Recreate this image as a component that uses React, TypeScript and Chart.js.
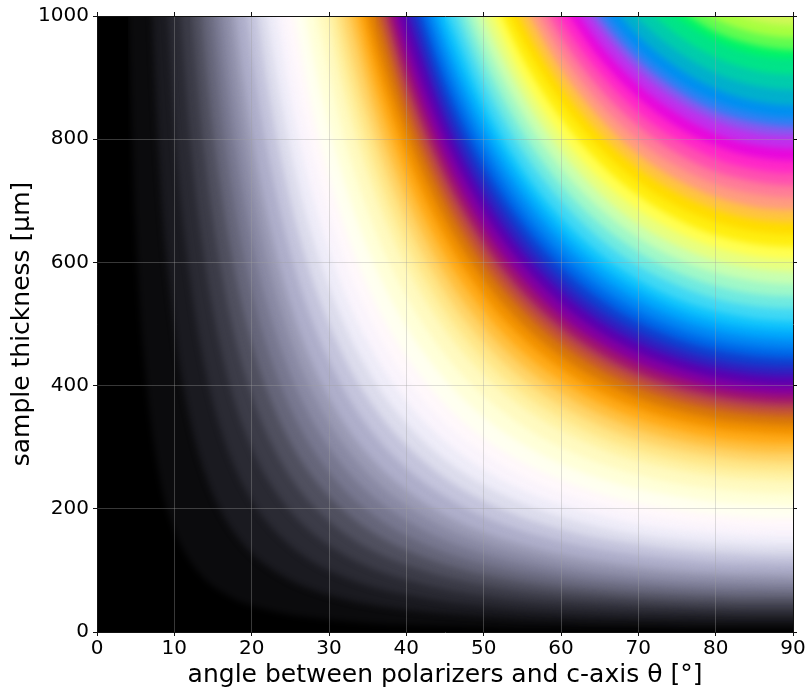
import React, { useEffect, useRef } from "react";
import { Chart, registerables } from "chart.js";

Chart.register(...registerables);

// Angle positions (degrees) at which the iso-colour contours were read.
const thetaGrid = [-10, 3, 4, 5, 6, 8, 10, 12, 14, 16, 18, 20, 22, 25, 28, 32, 36, 40, 45, 50, 55, 60, 65, 70, 75, 80, 85, 90];

// Colour of the band that starts at each contour, lowest band first.
const contourColors = [
  "#000000", "#0b0b0d", "#1a1a20", "#2a2a33", "#3c3c48", "#50505f", "#66667a", "#787890", "#8a8aa4", "#9a9ab4", "#aeaeca",
  "#c4c4dc", "#dcdcec", "#eeecf8", "#faf4fc", "#fff8fb", "#fffff0", "#ffffd8", "#fffac0", "#fff2a4", "#ffe688", "#ffd468",
  "#ffc040", "#ffaa18", "#f29200", "#d87808", "#c65830", "#b44050", "#a01470", "#8400a0", "#5a00b0", "#3020c0", "#1040d0",
  "#0068e8", "#0088f4", "#00a8fc", "#10c4fc", "#40d8f4", "#70eae0", "#a0f8c8", "#c8ffb0", "#e8ff80", "#ffff50", "#ffee10",
  "#ffdc00", "#ffc440", "#ff9c80", "#ff7c98", "#ff50b0", "#ff28c8", "#e808dc", "#c030ec", "#8858f0", "#3080f4", "#0090f0",
  "#00b0cc", "#00ccac", "#00e488", "#00f468", "#60fc50", "#a8ff40", "#d0f858",
];

// Thickness (µm) of each contour; each list ends at theta = 90 and lines up with the end of thetaGrid.
const contourThickness = [
  [-100, -100, -100, -100, -100, -100, -100, -100, -100, -100, -100, -100, -100, -100, -100, -100, -100, -100, -100, -100, -100, -100, -100, -100, -100, -100, -100, -100],
  [1026, 658, 458, 258, 166, 116, 85, 66, 52, 43, 36, 28, 23, 18, 14, 12, 10, 9, 7, 7, 6, 6, 5, 5, 5, 5],
  [1372, 774, 497, 347, 256, 197, 157, 128, 107, 84, 68, 53, 43, 36, 30, 26, 22, 20, 18, 17, 16, 15, 15, 15],
  [1290, 829, 578, 427, 329, 262, 214, 178, 140, 113, 89, 72, 61, 50, 43, 37, 33, 30, 28, 27, 26, 25, 25],
  [1161, 810, 598, 461, 366, 299, 249, 196, 159, 125, 101, 85, 70, 60, 52, 47, 43, 40, 38, 36, 35, 35],
  [1041, 769, 592, 471, 385, 321, 252, 204, 160, 130, 109, 90, 77, 67, 60, 55, 51, 48, 46, 45, 45],
  [1272, 940, 724, 576, 470, 392, 308, 250, 196, 159, 133, 110, 94, 82, 73, 67, 62, 59, 57, 55, 55],
  [1111, 855, 681, 556, 463, 364, 295, 231, 188, 157, 130, 111, 97, 87, 79, 74, 70, 67, 66, 65],
  [1282, 987, 785, 641, 534, 420, 340, 267, 217, 182, 150, 128, 112, 100, 91, 85, 80, 77, 76, 75],
  [1119, 890, 727, 606, 476, 386, 303, 246, 206, 170, 145, 127, 113, 103, 96, 91, 88, 86, 85],
  [1250, 995, 812, 677, 532, 431, 338, 275, 230, 190, 162, 142, 127, 116, 108, 102, 98, 96, 95],
  [1152, 940, 784, 616, 499, 392, 318, 266, 220, 187, 164, 147, 134, 125, 118, 113, 111, 110],
  [1069, 891, 700, 567, 445, 362, 303, 250, 213, 186, 167, 152, 142, 134, 129, 126, 125],
  [1197, 998, 784, 635, 499, 405, 339, 280, 239, 209, 187, 170, 158, 150, 144, 141, 140],
  [1105, 868, 703, 552, 449, 375, 310, 264, 231, 207, 189, 175, 166, 160, 156, 155],
  [1211, 952, 771, 605, 492, 411, 340, 290, 253, 227, 207, 192, 182, 175, 171, 170],
  [1036, 839, 659, 535, 448, 370, 315, 276, 247, 225, 209, 198, 191, 186, 185],
  [1148, 930, 730, 593, 496, 410, 349, 305, 273, 249, 232, 220, 211, 207, 205],
  [1021, 801, 651, 545, 450, 383, 335, 300, 274, 255, 241, 232, 227, 225],
  [1112, 872, 709, 593, 490, 417, 365, 327, 298, 277, 263, 253, 247, 245],
  [1180, 926, 752, 629, 520, 443, 387, 347, 316, 294, 279, 268, 262, 260],
  [1248, 979, 796, 666, 550, 469, 410, 367, 335, 311, 295, 284, 277, 275],
  [1033, 839, 702, 580, 494, 432, 387, 353, 328, 311, 299, 292, 290],
  [1086, 883, 738, 610, 520, 454, 407, 371, 345, 327, 314, 307, 305],
  [1140, 926, 774, 640, 545, 477, 427, 389, 362, 343, 330, 323, 320],
  [1193, 969, 811, 670, 571, 499, 447, 408, 379, 359, 345, 338, 335],
  [1013, 847, 700, 596, 522, 467, 426, 396, 375, 361, 353, 350],
  [1048, 876, 724, 617, 539, 483, 441, 410, 388, 373, 365, 362],
  [1077, 900, 744, 634, 554, 496, 453, 421, 399, 384, 375, 372],
  [1114, 932, 770, 656, 574, 513, 469, 436, 413, 397, 388, 385],
  [1158, 968, 800, 682, 596, 533, 487, 453, 429, 412, 403, 400],
  [1004, 830, 707, 618, 553, 505, 470, 445, 428, 418, 415],
  [1041, 860, 733, 641, 573, 523, 487, 461, 443, 433, 430],
  [1077, 890, 758, 663, 593, 542, 504, 477, 459, 449, 445],
  [1113, 920, 784, 685, 613, 560, 521, 493, 474, 464, 460],
  [1150, 950, 809, 708, 633, 578, 538, 509, 490, 479, 475],
  [1186, 980, 835, 730, 653, 596, 555, 525, 505, 494, 490],
  [1010, 861, 752, 673, 615, 572, 541, 521, 509, 505],
  [1050, 895, 782, 700, 639, 594, 563, 541, 529, 525],
  [1090, 929, 812, 726, 663, 617, 584, 562, 549, 545],
  [1130, 963, 842, 753, 688, 640, 606, 583, 570, 565],
  [1170, 997, 872, 780, 712, 662, 627, 603, 590, 585],
  [1031, 901, 806, 736, 685, 649, 624, 610, 605],
  [1065, 931, 833, 761, 708, 670, 644, 630, 625],
  [1099, 961, 860, 785, 730, 691, 665, 650, 645],
  [1133, 991, 886, 809, 753, 713, 686, 670, 665],
  [1021, 913, 834, 775, 734, 706, 690, 685],
  [1050, 940, 858, 798, 756, 727, 711, 705],
  [1080, 966, 882, 821, 777, 747, 731, 725],
  [1110, 993, 907, 843, 799, 768, 751, 745],
  [1020, 931, 866, 820, 789, 771, 765],
  [1046, 955, 889, 842, 809, 791, 785],
  [1073, 980, 911, 863, 830, 811, 805],
  [1093, 998, 928, 879, 845, 827, 820],
  [1016, 945, 895, 861, 842, 835],
  [1041, 968, 917, 882, 862, 855],
  [1071, 996, 943, 907, 887, 880],
  [1024, 970, 933, 912, 905],
  [1053, 997, 959, 937, 930],
  [1013, 974, 953, 945],
  [1034, 995, 973, 965],
  [1016, 993, 985],
];

const xTitle = "angle between polarizers and c-axis θ [°]";
const yTitle = "sample thickness [µm]";
const FONT = "'DejaVu Sans'";
const GRID = "rgba(160,160,160,0.35)";
const EDGE = "#111111";
const OFF_PLOT_THETA = 100;
const OFF_PLOT_THICKNESS = 3000;

const softenBands = {
  id: "softenBands",
  beforeDatasetsDraw(chart: any) {
    chart.ctx.filter = "blur(3px)";
  },
  afterDatasetsDraw(chart: any) {
    chart.ctx.filter = "none";
  },
};

export default function App() {
  const ref = useRef<HTMLCanvasElement>(null);
  useEffect(() => {
    document.body.style.margin = "0";
    const datasets = contourThickness.map((ys, i) => {
      const off = thetaGrid.length - ys.length;
      const pts = ys.map((y, k) => ({ x: thetaGrid[off + k], y }));
      pts.push({ x: OFF_PLOT_THETA, y: ys[ys.length - 1] });
      return {
        data: pts,
        borderWidth: 0,
        borderColor: "transparent",
        backgroundColor: contourColors[i],
        pointRadius: 0,
        showLine: true,
        fill: { value: OFF_PLOT_THICKNESS },
        cubicInterpolationMode: "monotone" as const,
        order: contourThickness.length - i,
        xAxisID: "x",
        yAxisID: "y",
      };
    });
    const fixed = (side: "width" | "height", size: number) => (s: any) => {
      s[side] = size;
    };
    const chart = new Chart(ref.current!, {
      type: "scatter",
      data: { datasets: datasets as any },
      plugins: [softenBands],
      options: {
        animation: false,
        responsive: false,
        layout: { padding: 0 },
        plugins: { legend: { display: false }, tooltip: { enabled: false } },
        scales: {
          x: {
            type: "linear", min: 0, max: 90, position: "bottom",
            afterFit: fixed("height", 61),
            border: { color: EDGE, z: 2 },
            grid: { color: GRID, z: 1, tickColor: EDGE, tickLength: 4 },
            ticks: { stepSize: 10, color: "#000", maxRotation: 0, padding: 1, font: { family: FONT, size: 20 }, callback: (v: any) => String(v) },
            title: { display: true, text: xTitle, color: "#000", font: { family: FONT, size: 25 }, padding: { top: 0, bottom: 3 } },
          },
          y: {
            type: "linear", min: 0, max: 1000, position: "left",
            afterFit: fixed("width", 97),
            border: { color: EDGE, z: 2 },
            grid: { color: GRID, z: 1, tickColor: EDGE, tickLength: 4 },
            ticks: { stepSize: 200, color: "#000", padding: 4, font: { family: FONT, size: 20 }, callback: (v: any) => String(v) },
            title: { display: true, text: yTitle, color: "#000", font: { family: FONT, size: 25 }, padding: { top: 7, bottom: 0 } },
          },
          x2: {
            type: "linear", min: 0, max: 90, position: "top",
            afterFit: fixed("height", 14),
            border: { color: EDGE, z: 2 },
            grid: { drawOnChartArea: false, tickColor: EDGE, tickLength: 4 },
            ticks: { stepSize: 10, display: false },
          },
          y2: {
            type: "linear", min: 0, max: 1000, position: "right",
            afterFit: fixed("width", 19),
            border: { color: EDGE, z: 2 },
            grid: { drawOnChartArea: false, tickColor: EDGE, tickLength: 4 },
            ticks: { stepSize: 200, display: false },
          },
        },
      },
    });
    return () => chart.destroy();
  }, []);
  return <canvas ref={ref} width={812} height={693} style={{ display: "block" }} />;
}
